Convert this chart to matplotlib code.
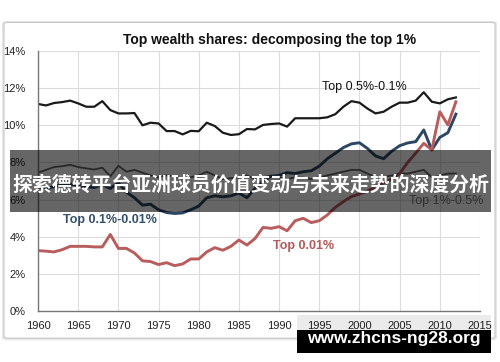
import matplotlib
matplotlib.use("Agg")
import matplotlib.pyplot as plt
from matplotlib.patches import Rectangle, FancyBboxPatch
from matplotlib.ticker import FuncFormatter

plt.rcParams["font.family"] = ["Liberation Sans", "DejaVu Sans"]

years = list(range(1960, 2013))

# Top 0.5%-0.1% (black)
top_05_01 = [11.15, 11.07, 11.2, 11.25, 11.33, 11.18, 11.0, 11.0, 11.3, 10.82,
             10.64, 10.64, 10.66, 10.0, 10.14, 10.1, 9.69, 9.69, 9.51, 9.7,
             9.68, 10.14, 9.96, 9.6, 9.48, 9.52, 9.8, 9.78, 10.02, 10.07,
             10.1, 9.93, 10.38, 10.38, 10.38, 10.38, 10.43, 10.6, 11.0, 11.3,
             11.22, 10.9, 10.64, 10.73, 11.0, 11.22, 11.22, 11.33, 11.78, 11.27,
             11.18, 11.4, 11.5]

# Top 0.1%-0.01% (blue)
top_01_001 = [6.7, 6.6, 6.7, 6.8, 6.85, 6.75, 6.7, 6.65, 6.8, 6.6,
              6.9, 6.4, 6.1, 5.7, 5.75, 5.45, 5.3, 5.25, 5.28, 5.45,
              5.65, 6.1, 6.2, 6.15, 6.2, 6.35, 6.1, 6.6, 7.0, 7.25,
              7.3, 7.45, 7.4, 7.5, 7.55, 7.8, 8.2, 8.5, 8.8, 9.0,
              9.06, 8.75, 8.35, 8.2, 8.6, 8.9, 9.05, 9.12, 9.75, 8.67,
              9.35, 9.6, 10.6]

# Top 0.01% (red)
top_001 = [3.25, 3.22, 3.18, 3.3, 3.48, 3.48, 3.48, 3.45, 3.45, 4.12,
           3.37, 3.37, 3.12, 2.7, 2.66, 2.5, 2.6, 2.44, 2.53, 2.8,
           2.8, 3.18, 3.41, 3.27, 3.48, 3.82, 3.55, 3.9, 4.5, 4.45,
           4.54, 4.32, 4.86, 4.99, 4.76, 4.86, 5.17, 5.58, 5.89, 6.16,
           6.3, 6.45, 6.7, 6.9, 7.1, 7.4, 8.0, 8.5, 9.03, 8.67,
           10.73, 10.02, 11.27]

# Top 1%-0.5% (grey)
top_1_05 = [7.45, 7.6, 7.75, 7.8, 7.87, 7.75, 7.68, 7.62, 7.72, 7.25,
            7.82, 7.5, 7.6, 7.45, 7.3, 7.2, 7.3, 7.25, 7.1, 7.2,
            7.3, 7.5, 7.3, 7.1, 7.15, 7.2, 7.3, 7.1, 7.2, 7.3,
            7.2, 7.1, 7.2, 7.2, 7.1, 7.2, 7.3, 7.4, 7.5, 7.6,
            7.6, 7.4, 7.2, 7.2, 7.3, 7.4, 7.4, 7.5, 7.6, 7.2,
            7.3, 7.4, 7.4]

x_ticks = list(range(1960, 2016, 5))
y_ticks = list(range(0, 15, 2))

fig = plt.figure(figsize=(5, 3.62), dpi=100)

# card background with soft shadow
fig.add_artist(FancyBboxPatch((0.004, 0.060), 0.99, 0.882, boxstyle="round,pad=0,rounding_size=0.008",
                              transform=fig.transFigure, facecolor="#e6e6e6", edgecolor="none", zorder=-3))
fig.add_artist(FancyBboxPatch((0.008, 0.066), 0.982, 0.872, boxstyle="round,pad=0,rounding_size=0.006",
                              transform=fig.transFigure, facecolor="white", edgecolor="#c8c8c8",
                              linewidth=0.8, zorder=-2))

ax = fig.add_axes([0.076, 0.141, 0.884, 0.718])
ax.set_facecolor("none")

ax.plot(years, top_1_05, color="#666666", lw=1.3)
ax.plot(years, top_05_01, color="#1a1a1a", lw=1.6)
ax.plot(years, top_01_001, color="#2b4763", lw=2.1)
ax.plot(years, top_001, color="#b85c5c", lw=2.1)

ax.set_xlim(1960, 2015)
ax.set_ylim(0, 14)
ax.set_xticks(x_ticks)
ax.set_yticks(y_ticks)
ax.yaxis.set_major_formatter(FuncFormatter(lambda v, p: f"{int(v)}%"))
ax.tick_params(length=0, labelsize=8, colors="#222222")
ax.tick_params(axis="y", pad=9)
ax.tick_params(axis="x", pad=7)
ax.grid(True, color="#dcdcdc", lw=0.8)
ax.set_axisbelow(True)
for s in ["top", "right"]:
    ax.spines[s].set_visible(False)
for s in ["left", "bottom"]:
    ax.spines[s].set_color("#777777")
    ax.spines[s].set_linewidth(1.0)

ax.text(2000.6, 12.05, "Top 0.5%-0.1%", ha="center", va="center", fontsize=9, color="#111111")
ax.text(1969, 4.9, "Top 0.1%-0.01%", ha="center", va="center", fontsize=9, color="#34506b", weight="bold")
ax.text(1993, 3.52, "Top 0.01%", ha="center", va="center", fontsize=9, color="#b05a5a", weight="bold")
ax.text(2010.75, 5.94, "Top 1%-0.5%", ha="center", va="center", fontsize=9, color="#777777")

fig.text(0.54, 0.889, "Top wealth shares: decomposing the top 1%", ha="center", va="center",
         fontsize=10, weight="bold", color="#111111")

# dark banner with headline
fig.add_artist(Rectangle((0.02, 0.414), 0.962, 0.172, transform=fig.transFigure,
                         facecolor="black", alpha=0.6, edgecolor="none", zorder=2))
fig.text(0.502, 0.492, "探索德转平台亚洲球员价值变动与未来走势的深度分析", ha="center", va="center",
         fontsize=14.3, weight="bold", color="white", family=["Noto Sans CJK SC", "DejaVu Sans"], zorder=3)

# watermark box
fig.add_artist(Rectangle((0.594, 0.088), 0.388, 0.042, transform=fig.transFigure,
                         facecolor="black", alpha=0.08, edgecolor="none", zorder=2))
fig.add_artist(Rectangle((0.594, 0.025), 0.388, 0.064, transform=fig.transFigure,
                         facecolor="black", edgecolor="none", zorder=2))
fig.text(0.788, 0.064, "www.zhcns-ng28.org", ha="center", va="center", fontsize=12.5,
         weight="bold", color="white", zorder=3)

fig.savefig("out.png", dpi=100)
